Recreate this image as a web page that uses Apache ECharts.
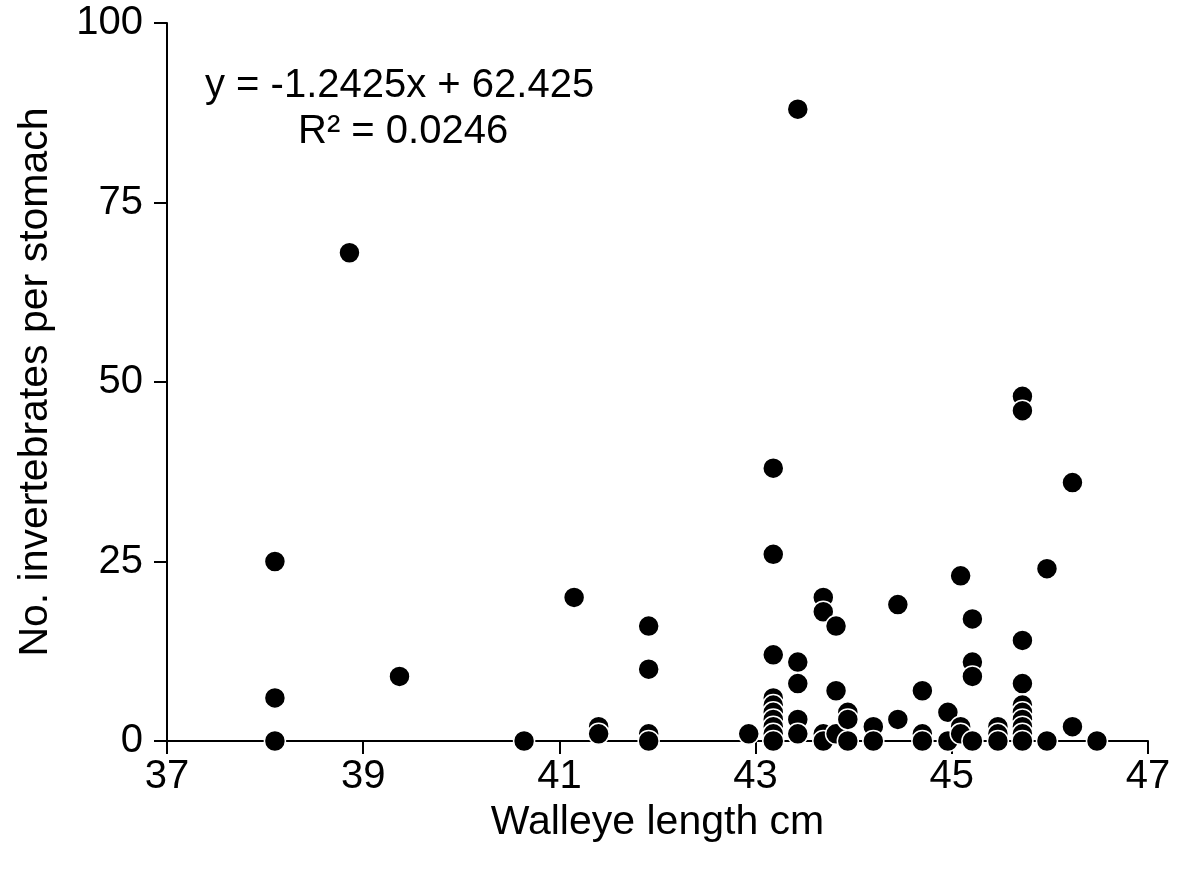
<!DOCTYPE html>
<html>
<head>
<meta charset="utf-8">
<script src="https://cdn.jsdelivr.net/npm/echarts@6/dist/echarts.min.js"></script>
<style>
  html, body { margin: 0; padding: 0; background: #fff; }
  #chart { width: 1179px; height: 873px; }
</style>
</head>
<body>
<div id="chart"></div>
<script>
// Walleye length (cm) and number of invertebrates per stomach
var lengthsCm = [
  38.10, 38.10, 38.10,
  38.86,
  39.37,
  40.64,
  41.15,
  41.40, 41.40,
  41.91, 41.91, 41.91, 41.91,
  42.93,
  43.18, 43.18, 43.18, 43.18, 43.18, 43.18, 43.18, 43.18, 43.18, 43.18,
  43.43, 43.43, 43.43, 43.43, 43.43,
  43.69, 43.69, 43.69, 43.69,
  43.82, 43.82, 43.82,
  43.94, 43.94, 43.94,
  44.20, 44.20,
  44.45, 44.45,
  44.70, 44.70, 44.70,
  44.96, 44.96,
  45.09, 45.09, 45.09,
  45.21, 45.21, 45.21, 45.21,
  45.47, 45.47, 45.47,
  45.72, 45.72, 45.72, 45.72, 45.72, 45.72, 45.72, 45.72, 45.72, 45.72,
  45.97, 45.97,
  46.23, 46.23,
  46.48
];
var invertebrates = [
  25, 6, 0,
  68,
  9,
  0,
  20,
  2, 1,
  16, 10, 1, 0,
  1,
  38, 26, 12, 6, 5, 4, 3, 2, 1, 0,
  88, 11, 8, 3, 1,
  20, 18, 1, 0,
  16, 7, 1,
  4, 3, 0,
  2, 0,
  19, 3,
  7, 1, 0,
  4, 0,
  23, 2, 1,
  17, 11, 9, 0,
  2, 1, 0,
  48, 46, 14, 8, 5, 4, 3, 2, 1, 0,
  24, 0,
  36, 2,
  0
];
var equationText = "y = -1.2425x + 62.425";
var r2Text = "R\u00B2 = 0.0246";
var xTitle = "Walleye length cm";
var yTitle = "No. invertebrates per stomach";

var points = lengthsCm.map(function (x, i) { return [x, invertebrates[i]]; });

var FONT = "'Liberation Sans', Arial, sans-serif";
var chart = echarts.init(document.getElementById('chart'), null, { renderer: 'canvas' });
chart.setOption({
  animation: false,
  backgroundColor: '#ffffff',
  grid: { left: 167, right: 31, top: 23, bottom: 132, containLabel: false, outerBoundsMode: 'none' },
  xAxis: {
    type: 'value', min: 37, max: 47, interval: 2,
    name: xTitle, nameLocation: 'middle', nameGap: 68,
    nameTextStyle: { fontFamily: FONT, fontSize: 41, color: '#000', verticalAlign: 'middle', padding: 0 },
    axisLine: { show: true, onZero: false, lineStyle: { color: '#000', width: 2 } },
    axisTick: { show: true, inside: false, length: 13, lineStyle: { color: '#000', width: 2 } },
    axisLabel: { fontFamily: FONT, fontSize: 40, color: '#000', margin: 16 },
    splitLine: { show: false }
  },
  yAxis: {
    type: 'value', min: 0, max: 100, interval: 25,
    name: yTitle, nameLocation: 'middle', nameGap: 131, nameRotate: 90,
    nameTextStyle: { fontFamily: FONT, fontSize: 41, color: '#000', verticalAlign: 'middle', padding: 0 },
    axisLine: { show: true, lineStyle: { color: '#000', width: 2 } },
    axisTick: { show: true, inside: false, length: 13, lineStyle: { color: '#000', width: 2 } },
    axisLabel: { fontFamily: FONT, fontSize: 40, color: '#000', margin: 24 },
    splitLine: { show: false }
  },
  series: [{
    type: 'scatter',
    data: points,
    symbol: 'circle',
    symbolSize: 21,
    itemStyle: { color: '#000', borderColor: '#fff', borderWidth: 1.5, opacity: 1 },
    emphasis: { disabled: true }
  }],
  graphic: [
    { type: 'text', left: 205, top: 66,
      style: { text: equationText, font: '40px ' + FONT, fill: '#000' } },
    { type: 'text', left: 298, top: 112,
      style: { text: r2Text, font: '40px ' + FONT, fill: '#000' } }
  ]
});
</script>
</body>
</html>
